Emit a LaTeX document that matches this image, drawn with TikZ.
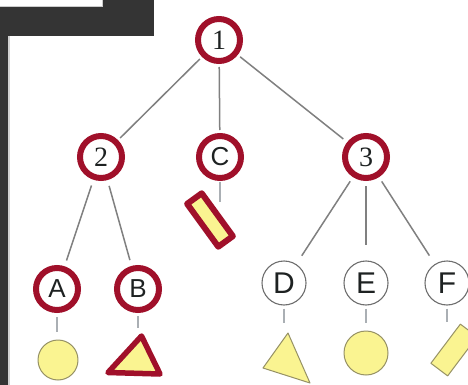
\documentclass[tikz,border=0pt]{standalone}
\usepackage{fontspec}
\setmainfont{Liberation Serif}
\newfontfamily\lettersans{Liberation Sans}

\definecolor{ringred}{RGB}{160,16,42}
\definecolor{ink}{RGB}{30,34,34}
\definecolor{linegray}{RGB}{128,128,128}
\definecolor{stubgray}{RGB}{170,175,180}
\definecolor{yellowfill}{RGB}{250,244,145}
\definecolor{olive}{RGB}{150,145,100}
\definecolor{ringgray}{RGB}{110,110,110}
\definecolor{frame}{RGB}{52,52,52}

\tikzset{
  rednode/.style={circle, draw=ringred, line width=6pt, minimum size=42pt,
    inner sep=0pt, fill=white, text=ink},
  digit/.style={rednode, font=\fontsize{28}{28}\selectfont},
  letter/.style={rednode, font=\lettersans\fontsize{26}{26}\selectfont},
  plainnode/.style={circle, draw=ringgray, line width=1.1pt, minimum size=44pt,
    inner sep=0pt, fill=white, text=ink, font=\lettersans\fontsize{30}{30}\selectfont},
  branch/.style={draw=linegray, line width=1.5pt},
  stub/.style={draw=stubgray, line width=1.5pt},
  yellowshape/.style={fill=yellowfill, draw=olive, line width=1pt, line join=round},
  redshape/.style={fill=yellowfill, draw=ringred, line width=5.5pt, line join=round},
}

\begin{document}
\begin{tikzpicture}[x=1pt, y=-1pt]
  \useasboundingbox (0,0) rectangle (468,385);
  \clip (0,0) rectangle (468,385);
  \fill[white] (0,0) rectangle (468,385);

  % dark frame in the upper left
  \fill[frame] (0,0) rectangle (154,36);
  \fill[frame] (0,36) rectangle (8,385);
  \fill[white, draw=gray!40, line width=0.6pt] (-1,-1) rectangle (102,6);
  \draw[gray!35, line width=1.5pt] (9,36) -- (9,385);

  % tree nodes
  \node[digit]  (n1) at (219,40)  {1};
  \node[digit]  (n2) at (101,157) {2};
  \node[letter] (nC) at (220,157) {C};
  \node[digit]  (n3) at (366,157) {3};
  \node[letter] (nA) at (57,289)  {A};
  \node[letter] (nB) at (138,289) {B};
  \node[plainnode] (nD) at (284,283) {D};
  \node[plainnode] (nE) at (366,283) {E};
  \node[plainnode] (nF) at (447,283) {F};

  % branches
  \draw[branch, shorten <=3pt, shorten >=3pt] (n1) -- (n2);
  \draw[branch, shorten <=3pt, shorten >=3pt] (n1) -- (nC);
  \draw[branch, shorten <=3pt, shorten >=5pt] (n1) -- (n3);
  \draw[branch, shorten <=6pt, shorten >=6pt] (n2) -- (nA);
  \draw[branch, shorten <=6pt, shorten >=6pt] (n2) -- (nB);
  \draw[branch, shorten <=5pt, shorten >=10pt] (n3) -- (nD);
  \draw[branch, shorten <=5pt, shorten >=15pt] (n3) -- (nE);
  \draw[branch, shorten <=5pt, shorten >=10pt] (n3) -- (nF);

  % leaf shapes
  \node[circle, yellowshape, minimum size=40pt, inner sep=0pt] (shA) at (58,360) {};
  \draw[redshape] (141.5,336) -- (160,374) -- (108,372.5) -- cycle;
  \node[rectangle, redshape, line width=6pt, minimum width=53pt, minimum height=18pt,
        inner sep=0pt, rotate=-54] (shC) at (210,220) {};
  \draw[yellowshape] (288,333) -- (310,383) -- (263,368) -- cycle;
  \node[circle, yellowshape, minimum size=44pt, inner sep=0pt] (shE) at (366,353) {};
  \node[rectangle, yellowshape, minimum width=49pt, minimum height=21pt,
        inner sep=0pt, rotate=53] (shF) at (454,350) {};

  % stub ends above each shape
  \coordinate (sA) at (57,332);
  \coordinate (sB) at (138,328);
  \coordinate (sC) at (220,202);
  \coordinate (sD) at (284,323);
  \coordinate (sE) at (366,323);
  \coordinate (sF) at (447,322);

  \draw[stub, shorten <=4pt] (nA) -- (sA);
  \draw[stub, shorten <=3pt] (nB) -- (sB);
  \draw[stub, shorten <=1pt] (nC) -- (sC);
  \draw[stub, shorten <=3pt] (nD) -- (sD);
  \draw[stub, shorten <=3pt] (nE) -- (sE);
  \draw[stub, shorten <=3pt] (nF) -- (sF);
\end{tikzpicture}
\end{document}
